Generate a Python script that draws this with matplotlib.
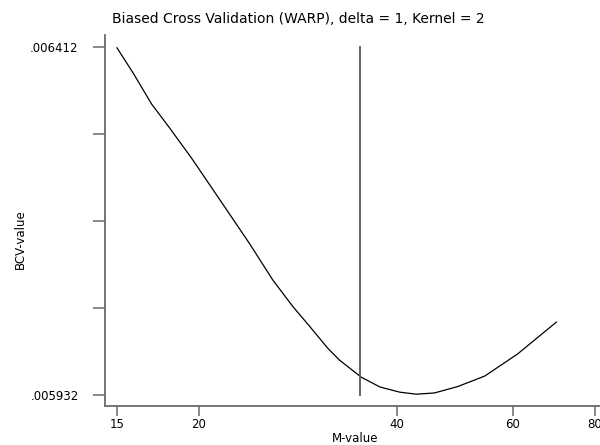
import numpy as np
import matplotlib
matplotlib.use("Agg")
import matplotlib.pyplot as plt
from matplotlib.ticker import FixedLocator, FixedFormatter, NullLocator

# Bandwidth grid (M) and biased cross-validation scores
m_values = [15, 15.9, 16.95, 18.07, 19.5, 21.03, 23.9, 25.9, 27.8, 29.5, 31.4,
            32.7, 35.3, 37.7, 40.4, 42.8, 45.6, 49.5, 54.4, 61.0, 70]
bcv_values = [0.006412, 0.0063761, 0.0063337, 0.0063002, 0.0062588, 0.006215,
              0.0061405, 0.0060908, 0.0060539, 0.0060263, 0.0059965, 0.0059803,
              0.0059566, 0.005943, 0.0059359, 0.0059331, 0.0059348, 0.0059437,
              0.0059582, 0.0059886, 0.0060332]
m_marker = 35.2

x_ticks = [15, 20, 40, 60, 80]
x_tick_labels = ["15", "20", "40", "60", "80"]
y_ticks = [0.005932, 0.006052, 0.006172, 0.006292, 0.006412]
y_tick_labels = [".005932", "", "", "", ".006412"]

plt.rcParams["font.family"] = ["DejaVu Sans"]
axis_grey = "#6a6a6a"

fig = plt.figure(figsize=(6.0, 4.45), dpi=100)
ax = fig.add_axes([105 / 600, 1 - 406 / 445, 495 / 600, (406 - 35) / 445])

ax.plot(m_values, bcv_values, color="black", linewidth=0.9, solid_capstyle="butt")
ax.plot([m_marker, m_marker], [y_ticks[0], y_ticks[-1]], color="#555555", linewidth=1.3)

ax.set_xscale("log")
ax.set_xlim(14.4, 81.4)
ax.set_ylim(0.0059168, 0.006429)

ax.xaxis.set_major_locator(FixedLocator(x_ticks))
ax.xaxis.set_major_formatter(FixedFormatter(x_tick_labels))
ax.xaxis.set_minor_locator(NullLocator())
ax.yaxis.set_major_locator(FixedLocator(y_ticks))
ax.yaxis.set_major_formatter(FixedFormatter(y_tick_labels))

for side in ("top", "right"):
    ax.spines[side].set_visible(False)
for side in ("left", "bottom"):
    ax.spines[side].set_color(axis_grey)
    ax.spines[side].set_linewidth(1.3)

ax.tick_params(axis="x", direction="out", length=7, width=1.1, color=axis_grey,
               labelsize=8.5, pad=2)
ax.tick_params(axis="y", direction="out", length=9, width=1.1, color=axis_grey,
               labelsize=8.5, pad=10)

fig.text(298 / 600, 1 - 19 / 445, "Biased Cross Validation (WARP), delta = 1, Kernel = 2",
         ha="center", va="center", fontsize=10)
fig.text(355 / 600, 1 - 439 / 445, "M-value", ha="center", va="center", fontsize=8.5)
fig.text(20 / 600, 1 - 239 / 445, "BCV-value", ha="center", va="center",
         rotation=90, fontsize=8.5)

fig.savefig("out.png", dpi=100)
